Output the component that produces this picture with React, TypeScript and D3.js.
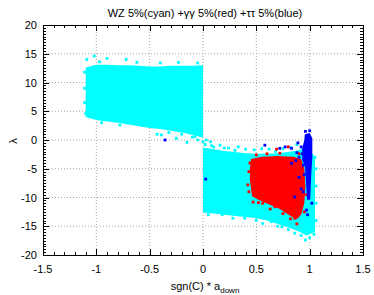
import React, { useEffect, useRef } from 'react';
import * as d3 from 'd3';

// cloud outlines (x, top / bottom of λ)
const wzLeftX = [-1.1, -1.0, -0.9, -0.8, -0.7, -0.6, -0.5, -0.4, -0.3, -0.2, -0.1, 0.0];
const wzLeftTop = [12.6, 13.1, 13.1, 13.0, 13.0, 12.9, 12.8, 12.8, 12.9, 12.9, 12.9, 13.0];
const wzLeftBottom = [4.0, 3.5, 3.2, 3.0, 2.7, 2.4, 2.1, 1.9, 1.6, 1.3, 0.9, 0.4];

const wzRightX = [0.0, 0.1, 0.2, 0.3, 0.4, 0.5, 0.6, 0.7, 0.8, 0.9, 0.97, 1.05];
const wzRightTop = [-1.3, -1.6, -1.9, -2.1, -2.3, -2.4, -2.4, -2.3, -2.1, -1.8, -1.0, -3.0];
const wzRightBottom = [-12.6, -12.8, -13.0, -13.2, -13.4, -13.6, -14.0, -14.6, -15.2, -15.9, -16.6, -16.0];

const gamOutline: [number, number][] = [
  [0.45, -3.3], [0.55, -2.9], [0.7, -2.8], [0.85, -2.9], [0.92, -3.3], [0.95, -5.0],
  [0.96, -8.0], [0.95, -11.0], [0.92, -13.0], [0.88, -13.8], [0.82, -13.2], [0.72, -12.0],
  [0.62, -11.2], [0.52, -10.4], [0.46, -9.8], [0.44, -7.0], [0.44, -5.0],
];

const tauOutline: [number, number][] = [
  [0.955, 1.0], [1.0, 1.2], [1.025, 0.3], [1.025, -3.0], [1.015, -6.0], [1.005, -10.4],
  [0.975, -10.4], [0.965, -7.0], [0.955, -4.5], [0.93, -3.5], [0.93, -1.5], [0.95, 0.0],
];

// stray points round the edges
const wzDotsX = [
  -1.09, -1.02, -0.9, -0.72, -0.97, -0.62, -0.4, -0.23, -0.05,
  -1.11, -1.11, -1.11, -1.1,
  -0.95, -0.78, -0.43, -0.39, -0.32, -0.25, -0.2, -0.15, -0.1, -0.075, -0.05, 0.0, 0.03, 0.1, 0.07,
  0.02, 0.08, 0.16, 0.24, 0.33, 0.4, 0.48, 0.55, 0.62, 0.68, 0.75, 0.82, 0.88, 0.3, 0.2,
  0.05, 0.18, 0.28, 0.39, 0.5, 0.56, 0.64, 0.7, 0.74, 0.8, 0.86, 0.92, 0.96, 1.0, 1.04,
  1.06, 1.06, 1.06, 1.06, 1.05,
];
const wzDotsY = [
  14.0, 14.6, 14.2, 14.0, 13.6, 13.5, 13.4, 13.5, 13.4,
  11.8, 9.0, 6.5, 4.6,
  3.0, 2.6, 1.0, 0.87, 1.3, 0.3, 1.0, -0.4, 0.5, 0.6, 0.0, -0.3, 0.0, -1.2, -0.3,
  -0.8, -1.0, -0.9, -1.4, -1.2, -1.6, -1.7, -1.5, -1.6, -2.0, -1.5, -1.3, -0.8, -1.8, -1.4,
  -13.0, -13.0, -13.6, -13.6, -14.0, -14.5, -14.2, -15.0, -15.1, -15.6, -16.2, -16.6, -17.4, -17.0, -16.4,
  -5.0, -8.0, -11.0, -14.0, -3.0,
];

const gamDotsX = [0.42, 0.43, 0.43, 0.44, 0.47, 0.5, 0.56, 0.6, 0.675, 0.69, 0.75, 0.8, 0.82, 0.86, 0.88, 0.9,
  0.95, 0.97, 0.52, 0.63, 0.72];
const gamDotsY = [-7.8, -9.0, -5.5, -4.0, -10.8, -2.6, -11.0, -2.4, -11.6, -1.6, -12.8, -1.2, -13.7, -13.6, -14.6, -2.4,
  -12.5, -9.5, -10.9, -12.0, -2.3];

const tauDotsX = [-0.356, 0.025, 0.58, 0.72, 0.77, 0.83, 0.86, 0.9, 0.92, 0.83, 0.97, 0.98, 1.02, 0.88, 0.9, 0.92,
  0.87, 0.93, 0.94, 0.95, 0.94, 0.96, 1.0, 0.89];
const tauDotsY = [0.0, -6.8, -0.9, -1.45, -1.2, -1.45, -9.9, -6.5, -8.5, -4.05, -12.2, -13.0, -11.0, -2.2, -3.0, -1.2,
  -3.6, -2.4, -4.4, -6.0, -9.0, 1.5, 1.6, -0.5];

const xTicks = [-1.5, -1, -0.5, 0, 0.5, 1, 1.5];
const yTicks = [-20, -15, -10, -5, 0, 5, 10, 15, 20];

const W = 374;
const H = 295;
const FONT = '"Liberation Sans", Arial, sans-serif';

const App = () => {
  const svgRef = useRef<SVGSVGElement>(null);

  useEffect(() => {
    const svg = d3.select(svgRef.current);
    svg.selectAll('*').remove();

    const x = d3.scaleLinear().domain([-1.5, 1.5]).range([43, 363]);
    const y = d3.scaleLinear().domain([-20, 20]).range([255, 25]);
    const [x0, x1] = x.range();
    const [y0, y1] = y.range();

    // grid
    const grid = svg.append('g').attr('stroke', '#a8a8a8').attr('stroke-width', 1).attr('stroke-dasharray', '1,2');
    xTicks.slice(1, -1).forEach((t) => {
      grid.append('line').attr('x1', x(t)).attr('x2', x(t)).attr('y1', y0).attr('y2', y1);
    });
    yTicks.slice(1, -1).forEach((t) => {
      grid.append('line').attr('x1', x0).attr('x2', x1).attr('y1', y(t)).attr('y2', y(t));
    });

    // clouds
    const band = d3.area<number>().x((d) => x(d));
    const drawBand = (xs: number[], top: number[], bot: number[]) =>
      svg
        .append('path')
        .datum(xs)
        .attr('fill', '#00ffff')
        .attr('d', band.y0((d, i) => y(bot[i])).y1((d, i) => y(top[i])));
    drawBand(wzLeftX, wzLeftTop, wzLeftBottom);
    drawBand(wzRightX, wzRightTop, wzRightBottom);

    const dots = (xs: number[], ys: number[], color: string) =>
      svg
        .append('g')
        .selectAll('rect')
        .data(xs)
        .enter()
        .append('rect')
        .attr('x', (d) => x(d) - 1.4)
        .attr('y', (d, i) => y(ys[i]) - 1.4)
        .attr('width', 2.8)
        .attr('height', 2.8)
        .attr('fill', color);
    dots(wzDotsX, wzDotsY, '#00ffff');

    const outline = d3
      .line<[number, number]>()
      .x((d) => x(d[0]))
      .y((d) => y(d[1]))
      .curve(d3.curveLinearClosed);
    svg.append('path').attr('d', outline(gamOutline)).attr('fill', '#ff0000');
    dots(gamDotsX, gamDotsY, '#ff0000');
    svg.append('path').attr('d', outline(tauOutline)).attr('fill', '#0000ff');
    dots(tauDotsX, tauDotsY, '#0000ff');

    // ticks on all four sides
    const ticks = svg.append('g').attr('stroke', '#000').attr('stroke-width', 1);
    d3.range(-15, 16).forEach((k) => {
      const v = k / 10;
      const len = k % 5 === 0 ? 6 : 3;
      const px = Math.round(x(v)) + 0.5;
      ticks.append('line').attr('x1', px).attr('x2', px).attr('y1', y0).attr('y2', y0 - len);
      ticks.append('line').attr('x1', px).attr('x2', px).attr('y1', y1).attr('y2', y1 + len);
    });
    d3.range(-40, 41).forEach((k) => {
      const v = k / 2;
      const len = k % 10 === 0 ? 6 : 3;
      const py = Math.round(y(v)) + 0.5;
      ticks.append('line').attr('x1', x0).attr('x2', x0 + len).attr('y1', py).attr('y2', py);
      ticks.append('line').attr('x1', x1).attr('x2', x1 - len).attr('y1', py).attr('y2', py);
    });

    svg
      .append('rect')
      .attr('x', x0 + 0.5)
      .attr('y', y1 + 0.5)
      .attr('width', x1 - x0)
      .attr('height', y0 - y1)
      .attr('fill', 'none')
      .attr('stroke', '#000');

    // tick labels
    const lab = svg.append('g').attr('font-family', FONT).attr('font-size', 11).attr('fill', '#000');
    xTicks.forEach((t) => {
      lab.append('text').attr('x', x(t)).attr('y', 273).attr('text-anchor', 'middle').text(String(t));
    });
    yTicks.forEach((t) => {
      lab.append('text').attr('x', 37).attr('y', y(t) + 4).attr('text-anchor', 'end').text(String(t));
    });

    // titles
    lab
      .append('text')
      .attr('x', 205)
      .attr('y', 17)
      .attr('text-anchor', 'middle')
      .text('WZ 5%(cyan) +γγ 5%(red) +ττ 5%(blue)');
    const xl = lab.append('text').attr('x', 205).attr('y', 290).attr('text-anchor', 'middle');
    xl.append('tspan').text('sgn(C) * a');
    xl.append('tspan').attr('font-size', 8).attr('dy', 3).text('down');
    lab.append('text').attr('transform', 'translate(17,141) rotate(-90)').attr('text-anchor', 'middle').text('λ');
  }, []);

  return (
    <div style={{ position: 'absolute', left: 0, top: 0, width: W, height: H, background: '#fff' }}>
      <svg ref={svgRef} width={W} height={H}></svg>
    </div>
  );
};

export default App;
